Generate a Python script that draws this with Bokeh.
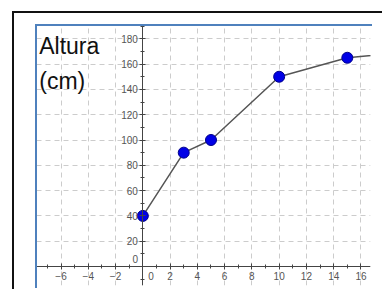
from bokeh.plotting import figure
from bokeh.models import (LinearAxis, Range1d, SingleIntervalTicker, Label, ColumnDataSource,
                          Grid, InlineStyleSheet)
from bokeh.embed import file_html
from bokeh.resources import INLINE

# data
edad = [0, 3, 5, 10, 15, 20]
altura = [40, 90, 100, 150, 165, 170]
y_title = ["Altura", "(cm)"]

src = ColumnDataSource(dict(x=edad, y=altura))

frame_css = InlineStyleSheet(css="""
:host::after {
  content: "";
  position: absolute;
  left: 12px; top: 11px; right: -20px; bottom: -20px;
  border-top: 2px solid #111;
  border-left: 2px solid #111;
  pointer-events: none;
}
:host::before {
  content: "";
  position: absolute;
  left: 35px; top: 24px; width: 335px; height: 262px;
  border-top: 2px solid #4f81bd;
  border-left: 2px solid #4f81bd;
  pointer-events: none;
  z-index: 5;
}
""")

p = figure(width=382, height=289, output_backend="svg", toolbar_location=None,
           x_range=Range1d(-7.8, 16.7), y_range=Range1d(-15.0, 190.5),
           x_axis_type=None, y_axis_type=None,
           min_border_left=36, min_border_right=12, min_border_top=25, min_border_bottom=4,
           stylesheets=[frame_css])
p.outline_line_color = None
p.background_fill_color = "white"
p.border_fill_color = "white"

AX = "#444444"
LBL = "#555555"

xax = LinearAxis(fixed_location=0, ticker=SingleIntervalTicker(interval=2, num_minor_ticks=2))
yax = LinearAxis(fixed_location=0, ticker=SingleIntervalTicker(interval=20, num_minor_ticks=2))
for ax in (xax, yax):
    ax.axis_line_color = AX
    ax.major_tick_line_color = AX
    ax.minor_tick_line_color = AX
    ax.major_tick_in = 3
    ax.major_tick_out = 3
    ax.minor_tick_in = 2
    ax.minor_tick_out = 2
    ax.major_label_text_font = "Liberation Sans"
    ax.major_label_text_font_size = "10px"
    ax.major_label_text_color = LBL
    ax.major_label_overrides = {0: ""}
xax.major_label_standoff = 2
yax.major_label_standoff = 2
p.add_layout(xax, "below")
p.add_layout(yax, "left")

for dim, iv in ((0, 2), (1, 20)):
    g = Grid(dimension=dim, ticker=SingleIntervalTicker(interval=iv),
             grid_line_color="#cccccc", grid_line_dash="5 4", grid_line_width=1)
    p.add_layout(g, "center")

p.line("x", "y", source=src, line_color="#555555", line_width=1.5)
p.scatter("x", "y", source=src, size=11, fill_color="#0000e6", line_color="#00008b", line_width=1)

p.add_layout(Label(x=-0.35, y=3, text="0", text_font="Liberation Sans", text_font_size="10px",
                   text_color=LBL, text_align="right", text_baseline="bottom"))
p.add_layout(Label(x=0.4, y=-4, text="0", text_font="Liberation Sans", text_font_size="10px",
                   text_color=LBL, text_align="left", text_baseline="top"))

p.add_layout(Label(x=-7.6, y=174.0, text=y_title[0], text_font="Liberation Sans",
                   text_font_size="23px", text_color="#111111", text_baseline="alphabetic"))
p.add_layout(Label(x=-7.6, y=147.0, text=y_title[1], text_font="Liberation Sans",
                   text_font_size="23px", text_color="#111111", text_baseline="alphabetic"))

open("out.html", "w").write(file_html(p, INLINE))
